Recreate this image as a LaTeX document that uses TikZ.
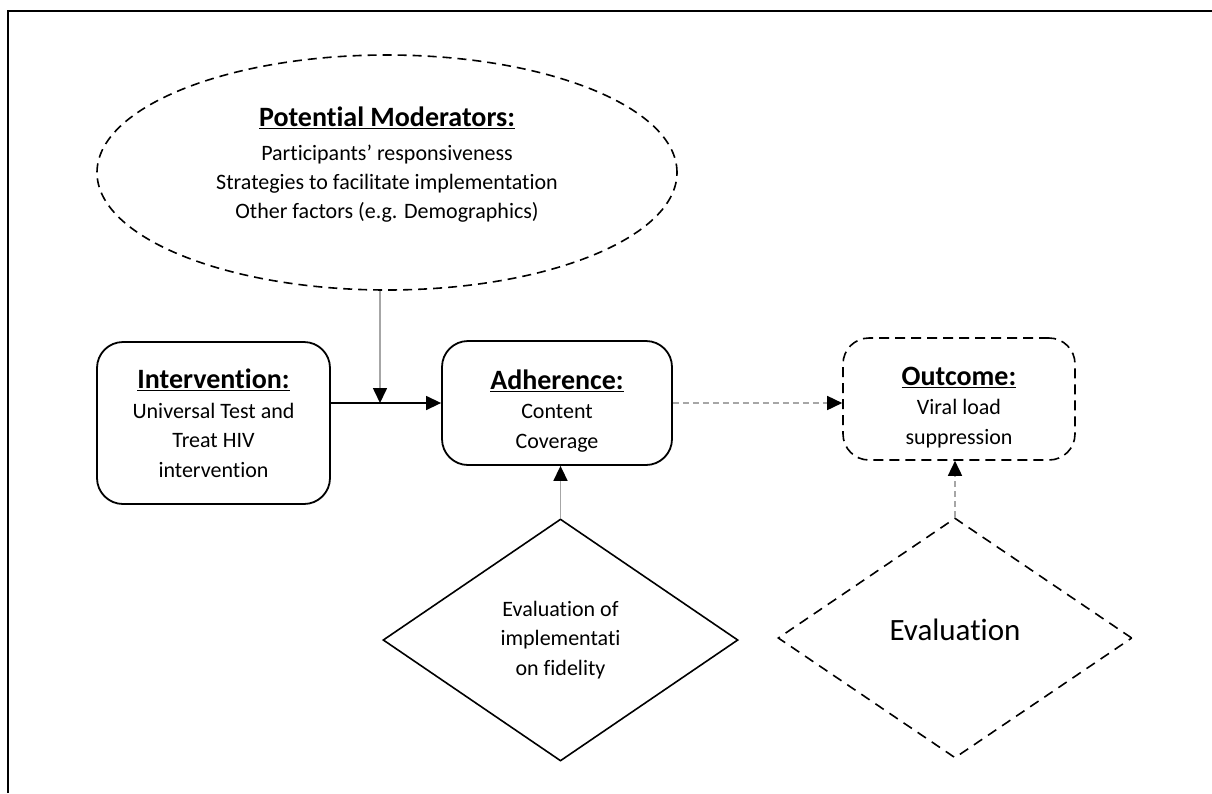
\documentclass[tikz,border=0pt]{standalone}
\usepackage{fontspec}
\setmainfont{Carlito}[Ligatures=NoCommon,RawFeature={-liga;-clig;-calt}]
\usetikzlibrary{shapes.geometric,arrows.meta}

\tikzset{
  box/.style={draw,line width=1.8pt,rounded corners=26pt,align=center,inner sep=0pt},
  dashbox/.style={box,line width=1.6pt,dash pattern=on 10pt off 6pt},
  rhomb/.style={draw,diamond,aspect=1.46,line width=1.6pt,align=center,inner sep=0pt},
  body/.style={font=\fontsize{22}{29.5}\selectfont},
  grayline/.style={draw=gray!70,line width=1.6pt},
  graydash/.style={grayline,dash pattern=on 6pt off 4pt},
  tip/.style={-{Triangle[length=15pt,width=14pt,color=black]}},
}
\newcommand\heading[1]{\underline{\textbf{\fontsize{28}{30}\selectfont #1}}}
\newcommand\lowstrut{\rule{0pt}{35pt}}

\begin{document}
\begin{tikzpicture}[x=1pt,y=-1pt]
      \useasboundingbox (0,0) rectangle (1212,793);
      \draw[line width=2pt] (8,793) -- (8,11) -- (1212,11);

      %%%%%%%%%%%%%%%%%%%%%%%%%%%%%%%%%%%%%%%%%%%%%%%%%%%%%%%%%%%%%%%%%%%%%%%%%%%
      %%%%  Moderators
      \node[ellipse,draw,line width=1.6pt,dash pattern=on 9pt off 6pt,
        minimum width=580pt,minimum height=235pt] (moder) at (387,172.5) {};
      \node[align=center,font=\fontsize{22}{29.3}\selectfont] (modtext) at (387,165)
        {{\heading{Potential Moderators:}}\\[4pt]
         Participants’ responsiveness\\
         Strategies to facilitate implementation\\
         Other factors (e.g. Demographics)};

      %%%%%%%%%%%%%%%%%%%%%%%%%%%%%%%%%%%%%%%%%%%%%%%%%%%%%%%%%%%%%%%%%%%%%%%%%%%
      %%%%  Boxes
      \node[box,body,minimum width=233pt,minimum height=162pt] (interv) at (213.5,423)
        {{\heading{Intervention:}}\\Universal Test and\\Treat HIV\\intervention};
      \node[box,body,minimum width=230pt,minimum height=124pt] (adher) at (557,403)
        {{\lowstrut\heading{Adherence:}}\\Content\\Coverage};
      \node[dashbox,body,minimum width=232pt,minimum height=122pt] (outc) at (959,399)
        {{\lowstrut\heading{Outcome:}}\\Viral load\\suppression};

      %%%%%%%%%%%%%%%%%%%%%%%%%%%%%%%%%%%%%%%%%%%%%%%%%%%%%%%%%%%%%%%%%%%%%%%%%%%
      %%%%  Evaluation
      \node[rhomb,body,minimum width=355pt,minimum height=242pt] (fidel) at (560.5,640)
        {Evaluation of\\implementati\\on fidelity};
      \node[rhomb,dash pattern=on 10pt off 7pt,font=\fontsize{31}{36}\selectfont,
        minimum width=354pt,minimum height=240pt] (evalu) at (955,638)
        {Evaluation\rule[-16pt]{0pt}{16pt}};

      %%%%%%%%%%%%%%%%%%%%%%%%%%%%%%%%%%%%%%%%%%%%%%%%%%%%%%%%%%%%%%%%%%%%%%%%%%%
      %%%%  Arrows
      \coordinate (join) at (380,403);
      \draw[line width=1.4pt,tip] (interv.east |- adher.west) -- (adher.west);
      \draw[grayline,tip] (join |- moder.south) -- (join);
      \draw[graydash,tip] (adher.east) -- (adher.east -| outc.west);

      \foreach \d/\b/\s in {fidel/adher/grayline,evalu/outc/graydash}
       {\draw[\s,tip] (\d.north) -- (\d.north |- \b.south);};
\end{tikzpicture}
\end{document}
